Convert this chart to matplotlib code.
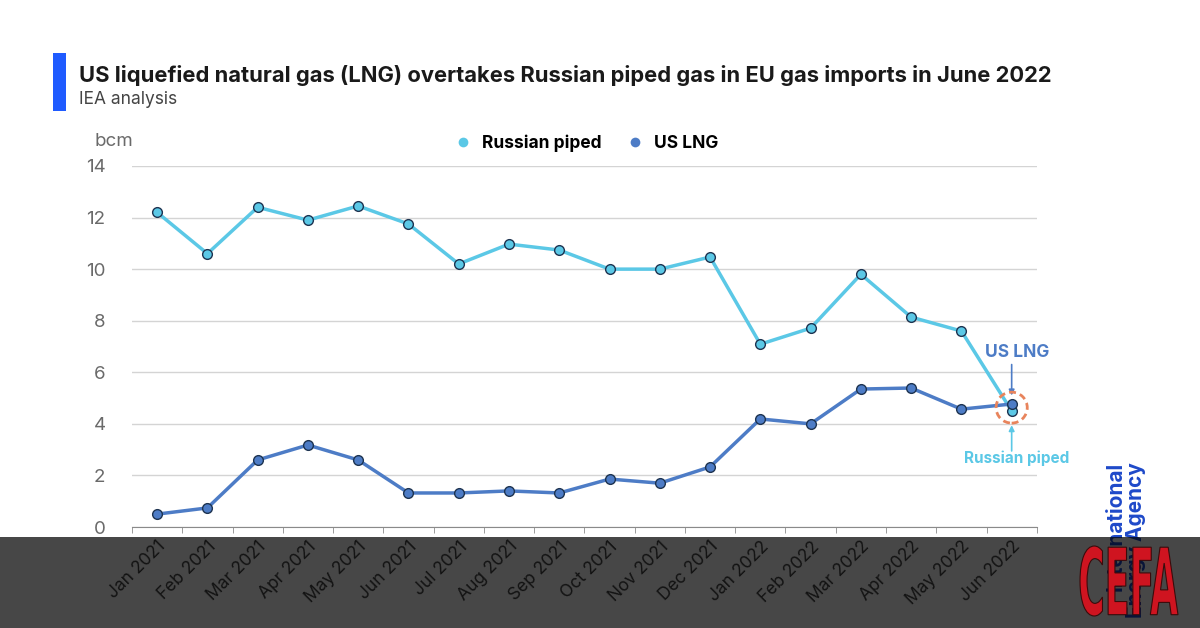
import numpy as np
import matplotlib.pyplot as plt
from matplotlib.patches import Ellipse, Rectangle, PathPatch
from matplotlib.textpath import TextPath
from matplotlib.font_manager import FontProperties
from matplotlib.transforms import Affine2D

plt.rcParams['font.family'] = ['Inter', 'DejaVu Sans']

# データ
months = ['Jan 2021', 'Feb 2021', 'Mar 2021', 'Apr 2021', 'May 2021', 'Jun 2021',
          'Jul 2021', 'Aug 2021', 'Sep 2021', 'Oct 2021', 'Nov 2021', 'Dec 2021',
          'Jan 2022', 'Feb 2022', 'Mar 2022', 'Apr 2022', 'May 2022', 'Jun 2022']
russian_piped = [12.2, 10.6, 12.4, 11.9, 12.45, 11.75, 10.2, 10.97, 10.74, 10.0,
                 10.0, 10.47, 7.09, 7.71, 9.8, 8.14, 7.6, 4.5]
us_lng = [0.5, 0.74, 2.6, 3.18, 2.6, 1.32, 1.32, 1.4, 1.32, 1.86, 1.7, 2.33,
          4.19, 4.0, 5.35, 5.39, 4.57, 4.77]
yticks = [0, 2, 4, 6, 8, 10, 12, 14]

c_ru = '#5bc8e6'
c_us = '#4d7cc6'
edge = '#1d3350'

fig = plt.figure(figsize=(12, 6.28), dpi=100)
ax = fig.add_axes([0.11, 0.1608, 0.754, 0.5749])

x = np.arange(len(months))
ax.plot(x, russian_piped, '-o', color=c_ru, lw=2.5, ms=7, mfc=c_ru, mec=edge, mew=1,
        label='Russian piped', clip_on=False, zorder=3)
ax.plot(x, us_lng, '-o', color=c_us, lw=2.5, ms=7, mfc=c_us, mec=edge, mew=1,
        label='US LNG', clip_on=False, zorder=4)

ax.set_xlim(-0.5, len(months) - 0.5)
ax.set_ylim(0, 14)
ax.set_yticks(yticks)
ax.yaxis.grid(True, color='#d4d4d4', lw=1)
ax.set_axisbelow(True)
for s in ['top', 'right', 'left']:
    ax.spines[s].set_visible(False)
ax.spines['bottom'].set_color('#8a8a8a')
ax.tick_params(axis='y', length=0, labelsize=13.5, labelcolor='#6a6a6a', pad=19)
ax.set_xticks(x)
ax.set_xticklabels(months, rotation=45, ha='right', rotation_mode='anchor',
                   fontsize=12.5, color='#444444')
ax.tick_params(axis='x', length=0, pad=8)
ax.set_xticks(np.arange(-0.5, len(months)), minor=True)
ax.tick_params(axis='x', which='minor', length=4, color='#8a8a8a')

fig.text(95 / 1200, 1 - 141 / 628, 'bcm', ha='left', va='center',
         fontsize=13.5, color='#6a6a6a')

# 注記
last = len(months) - 1
ax.add_patch(Ellipse((last, 4.63), 0.62, 1.2, fill=False, ec='#e8845c', lw=2,
                     ls=(0, (2.5, 1.5)), zorder=5, clip_on=False))
ax.text(last + 0.1, 6.75, 'US LNG', ha='center', va='center', fontsize=12.5,
        fontweight='bold', color=c_us)
ax.annotate('', xy=(last, 5.1), xytext=(last, 6.3),
            arrowprops=dict(arrowstyle='-|>', color=c_us, lw=1.2, shrinkA=0, shrinkB=0,
                            mutation_scale=8), annotation_clip=False)
ax.text(last + 0.1, 2.68, 'Russian piped', ha='center', va='center', fontsize=11,
        fontweight='bold', color=c_ru)
ax.annotate('', xy=(last, 3.95), xytext=(last, 2.95),
            arrowprops=dict(arrowstyle='-|>', color=c_ru, lw=1.2, shrinkA=0, shrinkB=0,
                            mutation_scale=8), annotation_clip=False)

leg = fig.legend(loc='center', bbox_to_anchor=(0.49, 0.772), ncol=2, frameon=False,
                 handlelength=0.6, handletextpad=0.8, columnspacing=1.6,
                 prop={'weight': 'bold', 'size': 12.5})
for h in leg.legend_handles:
    h.set_linestyle('none')
    h.set_markeredgewidth(0)

# タイトル
fig.patches.append(Rectangle((0.044, 0.823), 0.011, 0.093, transform=fig.transFigure,
                             color='#1f5bff', lw=0, figure=fig))
fig.text(0.066, 0.880, 'US liquefied natural gas (LNG) overtakes Russian piped gas in EU gas imports in June 2022',
         fontsize=15.8, fontweight='bold', color='#1a1a1a', va='center')
fig.text(0.066, 0.842, 'IEA analysis', fontsize=12.5, color='#444444', va='center')

# ロゴ
fig.text(0.938, 0.264, 'International\nEnergy Agency', rotation=90, ha='center', va='top',
         multialignment='right', fontsize=15, fontweight='bold', color='#1e49c9',
         linespacing=1.0)

fig.patches.append(Rectangle((0, 0), 1, 0.145, transform=fig.transFigure,
                             fc='black', alpha=0.72, lw=0, zorder=10, figure=fig))

tp = TextPath((0, 0), 'CEFA', prop=FontProperties(family='DejaVu Sans', weight='bold'))
bb = tp.get_extents()
x0, x1, y0, y1 = 1080 / 1200, 1178 / 1200, 12 / 628, 82 / 628
tr = (Affine2D().translate(-bb.x0, -bb.y0)
      .scale((x1 - x0) / bb.width, (y1 - y0) / bb.height)
      .translate(x0, y0) + fig.transFigure)
fig.patches.append(PathPatch(tp, transform=tr, fc='#cf1420', ec='#3a0c0c', lw=0.8,
                             zorder=11, figure=fig))

fig.savefig('out.png', dpi=100)
